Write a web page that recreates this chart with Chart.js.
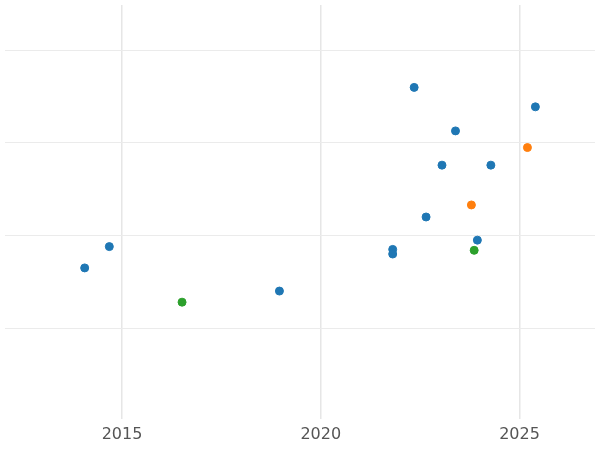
<!DOCTYPE html>
<html>
<head>
<meta charset="utf-8">
<script src="https://cdn.jsdelivr.net/npm/chart.js@4"></script>
<style>
html,body{margin:0;padding:0;background:#fff}
#wrap{width:600px;height:450px}
</style>
</head>
<body>
<div id="wrap"><canvas id="c"></canvas></div>
<script>
// values
const blue_x = [2014.06, 2014.68, 2018.96, 2021.81, 2021.81, 2022.35, 2022.65, 2023.05, 2023.39, 2024.28, 2023.94, 2025.40];
const blue_y = [1.65, 1.88, 1.40, 1.85, 1.80, 3.60, 2.20, 2.76, 3.13, 2.76, 1.95, 3.39];
const orange_x = [2023.79, 2025.20];
const orange_y = [2.33, 2.95];
const green_x = [2016.51, 2023.86];
const green_y = [1.28, 1.84];
const x_ticks = [2015, 2020, 2025];
const y_ticks = [1, 2, 3, 4];

function pts(xs, ys)
{
    return xs.map((x, i) => ({x: x, y: ys[i]}));
}

function ds(xs, ys, color)
{
    return {data: pts(xs, ys), backgroundColor: color, borderColor: color, pointRadius: 4, pointHoverRadius: 4};
}

new Chart(document.getElementById('c'), {
    type: 'scatter',
    data: {
        datasets: [
            ds(blue_x, blue_y, '#1f77b4'),
            ds(orange_x, orange_y, '#ff7f0e'),
            ds(green_x, green_y, '#2ca02c')
        ]
    },
    options: {
        responsive: true,
        maintainAspectRatio: false,
        animation: false,
        layout: {padding: 0},
        plugins: {legend: {display: false}, tooltip: {enabled: false}},
        scales: {
            x: {
                type: 'linear', min: 2012.055, max: 2026.9,
                afterBuildTicks: (s) => { s.ticks = x_ticks.map(v => ({value: v})); },
                grid: {color: '#e6e6e6', drawTicks: false, lineWidth: 1.5},
                border: {display: false},
                ticks: {color: '#555', font: {family: 'DejaVu Sans', size: 16}, padding: 6, callback: v => String(v)}
            },
            y: {
                min: 0.02, max: 4.49,
                afterBuildTicks: (s) => { s.ticks = y_ticks.map(v => ({value: v})); },
                grid: {color: '#ebebeb', drawTicks: false},
                border: {display: false},
                ticks: {display: false}
            }
        }
    }
});
</script>
</body>
</html>
